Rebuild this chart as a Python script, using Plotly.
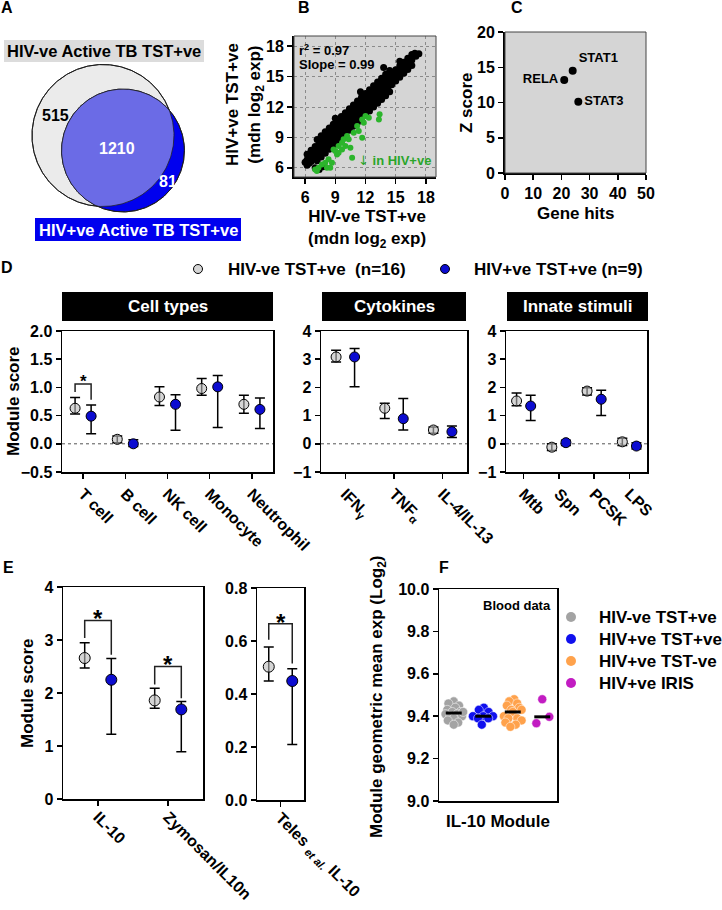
import numpy as np
import plotly.graph_objects as go

W, H = 722, 910
FONT = "Liberation Sans, Arial, Helvetica, sans-serif"


def fx(p):
    return p / W


def fy(p):
    return 1 - p / H


def F(size, color="black", bold=True):
    d = dict(family=FONT, size=size, color=color)
    if bold:
        d["weight"] = "bold"
    return d


# ======================= DATA =======================
# ---- Panel A (Venn counts)
venn_set_names = ["HIV-ve Active TB TST+ve", "HIV+ve Active TB TST+ve"]
venn_only_neg = 515
venn_shared = 1210
venn_only_pos = 81

# ---- Panel B (median log2 expression; black = all genes, green = lower in HIV+ve)
b_center_x = [6.2, 6.6, 7.0, 7.4, 7.8, 8.2, 8.6, 9.0, 9.4, 9.8, 10.2, 10.6, 11.0, 11.4, 11.8, 12.2, 12.6, 13.0,
              13.4, 13.8, 14.2, 14.6, 15.0, 15.4, 15.8, 16.2, 16.6, 17.0]
b_center_y = [6.80, 7.18, 7.56, 7.93, 8.31, 8.69, 9.07, 9.45, 9.82, 10.20, 10.58, 10.96, 11.34, 11.71, 12.09, 12.47,
              12.85, 13.23, 13.60, 13.98, 14.36, 14.74, 15.12, 15.49, 15.87, 16.25, 16.63, 17.01]
b_upper_x = [6.2, 6.6, 7.0, 7.4, 7.8, 8.2, 8.6, 9.0, 9.4, 9.8, 10.2, 10.6, 11.0, 11.4, 11.8, 12.2, 12.6, 13.0,
             13.4, 13.8, 14.2, 14.6, 15.0, 15.4, 15.8, 16.2, 16.6]
b_upper_y = [7.35, 7.73, 8.11, 8.48, 8.86, 9.24, 9.62, 10.00, 10.37, 10.75, 11.13, 11.51, 11.89, 12.26, 12.64, 13.02,
             13.40, 13.78, 14.15, 14.53, 14.91, 15.29, 15.67, 16.04, 16.42, 16.80, 17.18]
b_lower_x = b_upper_x
b_lower_y = [6.25, 6.63, 7.01, 7.38, 7.76, 8.14, 8.52, 8.90, 9.27, 9.65, 10.03, 10.41, 10.79, 11.16, 11.54, 11.92,
             12.30, 12.68, 13.05, 13.43, 13.81, 14.19, 14.57, 14.94, 15.32, 15.70, 16.08]
b_outer_x = [7.2, 7.6, 8.0, 8.4, 8.8, 9.2, 9.6, 10.0, 10.4, 10.8, 11.2, 11.6, 12.0, 12.4, 12.8, 13.2, 13.6, 14.0, 14.4]
b_top_y = [8.80, 9.17, 9.55, 9.93, 10.31, 10.69, 11.06, 11.44, 11.82, 12.20, 12.58, 12.95, 13.33, 13.71, 14.09,
           14.47, 14.84, 15.22, 15.60]
b_bottom_y = [6.70, 7.07, 7.45, 7.83, 8.21, 8.59, 8.96, 9.34, 9.72, 10.10, 10.48, 10.85, 11.23, 11.61, 11.99, 12.37,
              12.74, 13.12, 13.50]
b_extra_x = [6.0, 6.4, 7.0, 7.4, 7.8, 11.5, 9.0, 13.8, 17.3, 16.9, 15.4]
b_extra_y = [6.55, 6.45, 6.0, 5.85, 6.1, 13.5, 10.9, 15.9, 17.25, 17.3, 16.5]
b_green_x = [7.0, 7.33, 7.17, 7.67, 8.0, 8.17, 8.33, 8.5, 8.67, 8.83, 9.0, 9.17, 9.33, 9.33, 9.67, 9.67, 9.83, 10.0,
             10.17, 10.33, 10.5, 10.67, 10.83, 11.17, 11.33, 11.67, 11.67, 11.83, 12.0, 12.33, 13.33, 13.4]
b_green_y = [5.85, 6.0, 5.68, 6.34, 6.5, 6.0, 6.84, 6.0, 6.5, 7.82, 7.66, 7.33, 8.15, 7.5, 8.48, 7.82, 8.81, 8.15,
             9.14, 8.81, 7.99, 7.0, 9.47, 10.13, 9.63, 8.97, 10.78, 10.45, 11.11, 10.95, 10.78, 11.28]
b_r2 = 0.97
b_slope = 0.99
b_ticks = [6, 9, 12, 15, 18]

# ---- Panel C (upstream regulators)
c_names = ["STAT1", "RELA", "STAT3"]
c_hits = [24, 21, 26]
c_z = [14.5, 13.2, 10.1]
c_label_pos = ["top right", "middle left", "middle right"]

# ---- Panel D (module scores: mean, lower CI, upper CI)
d_groups = ["HIV-ve TST+ve\u00a0\u00a0(n=16)", "HIV+ve TST+ve (n=9)"]

d_cell_cats = ["T cell", "B cell", "NK cell", "Monocyte", "Neutrophil"]
d_cell_neg = [0.63, 0.08, 0.83, 0.98, 0.70]
d_cell_neg_lo = [0.53, 0.02, 0.68, 0.86, 0.54]
d_cell_neg_hi = [0.82, 0.14, 1.01, 1.16, 0.86]
d_cell_pos = [0.49, 0.00, 0.70, 1.01, 0.61]
d_cell_pos_lo = [0.18, -0.05, 0.24, 0.29, 0.27]
d_cell_pos_hi = [0.69, 0.07, 0.87, 1.21, 0.81]

d_cyto_cats = ["IFN<sub>γ</sub>", "TNF<sub>α</sub>", "IL-4/IL-13"]
d_cyto_neg = [3.08, 1.26, 0.49]
d_cyto_neg_lo = [2.90, 0.90, 0.37]
d_cyto_neg_hi = [3.32, 1.44, 0.60]
d_cyto_pos = [3.08, 0.89, 0.43]
d_cyto_pos_lo = [2.02, 0.49, 0.22]
d_cyto_pos_hi = [3.38, 1.61, 0.63]

d_innate_cats = ["Mtb", "Spn", "PCSK", "LPS"]
d_innate_neg = [1.52, -0.12, 1.87, 0.07]
d_innate_neg_lo = [1.35, -0.24, 1.73, -0.06]
d_innate_neg_hi = [1.80, 0.00, 1.99, 0.20]
d_innate_pos = [1.34, 0.04, 1.58, -0.08]
d_innate_pos_lo = [0.83, -0.06, 1.00, -0.18]
d_innate_pos_hi = [1.72, 0.13, 1.90, 0.04]

d_headers = ["Cell types", "Cytokines", "Innate stimuli"]
# significance bracket: (category index, top, left leg end, right leg end, star y)
d_sig = [(0, 1.06, 0.92, 0.78, 1.17)]

# ---- Panel E
e_cats = ["IL-10", "Zymosan/IL10n"]
e_neg = [2.66, 1.86]
e_neg_lo = [2.47, 1.71]
e_neg_hi = [2.95, 2.09]
e_pos = [2.25, 1.69]
e_pos_lo = [1.22, 0.89]
e_pos_hi = [2.65, 1.84]
e_sig = [(0, 3.37, 3.04, 2.72, 3.50), (1, 2.50, 2.16, 1.90, 2.63)]

e2_cats = ["Teles <sub><i>et al.</i></sub> IL-10"]
e2_neg = [0.503]
e2_neg_lo = [0.449]
e2_neg_hi = [0.577]
e2_pos = [0.449]
e2_pos_lo = [0.209]
e2_pos_hi = [0.495]
e2_sig = [(0, 0.665, 0.605, 0.515, 0.690)]

# ---- Panel F (IL-10 module geometric mean expression, blood)
f_groups = ["HIV-ve TST+ve", "HIV+ve TST+ve", "HIV+ve TST-ve", "HIV+ve IRIS"]
f_colors = ["#a3a3a3", "#1010ee", "#ffa24c", "#c21cc2"]
f_vals = [
    [9.47, 9.46, 9.45, 9.44, 9.43, 9.42, 9.42, 9.41, 9.41, 9.40, 9.40, 9.39, 9.38, 9.37, 9.36, 9.42],
    [9.44, 9.43, 9.42, 9.40, 9.40, 9.40, 9.39, 9.39, 9.36],
    [9.48, 9.47, 9.46, 9.45, 9.44, 9.43, 9.43, 9.42, 9.40, 9.39, 9.39, 9.38, 9.37, 9.36, 9.35],
    [9.48, 9.397, 9.367],
]
f_jitter = [
    [0.00, -0.18, 0.18, 0.05, -0.22, 0.22, -0.05, -0.28, 0.12, 0.28, -0.12, 0.00, -0.20, 0.15, 0.00, 0.32],
    [0.02, -0.15, 0.18, -0.35, 0.00, 0.33, -0.18, 0.17, -0.05],
    [0.05, -0.12, 0.15, -0.20, 0.22, -0.05, 0.30, 0.00, -0.30, 0.15, -0.15, 0.30, -0.25, 0.10, -0.08],
    [0.00, 0.24, -0.20],
]

# ======================= STYLE / LAYOUT CONSTANTS =======================
GRAY_FILL = "rgba(185,185,185,0.6)"
BLUE_FILL = "#0c0cd0"
D_LEG_MARK_X = [198, 445]
D_LEG_TEXT_X = [226, 472]
D_LEG_Y = 269
F_LEG_MARK_X = 571
F_LEG_TEXT_X = 597
F_LEG_Y = [617, 639, 661, 683]

layout_axes = {}
annotations = []
shapes = []


def add_axes(n, x0, x1, y0, y1, xkw, ykw):
    s = "" if n == 1 else str(n)
    xkw = dict(xkw)
    ykw = dict(ykw)
    xkw.update(domain=[fx(x0), fx(x1)], anchor="y" + s)
    ykw.update(domain=[fy(y1), fy(y0)], anchor="x" + s)
    layout_axes["xaxis" + s] = xkw
    layout_axes["yaxis" + s] = ykw


def axs(**kw):
    base = dict(showline=True, linecolor="black", linewidth=1.5, ticks="outside", ticklen=5, tickwidth=1.5,
                tickcolor="black", showgrid=False, zeroline=False, tickfont=F(16), fixedrange=True)
    base.update(kw)
    return base


def ann(text, x, y, size=17, color="black", xanchor="center", yanchor="middle", angle=0, bold=True,
        xref="paper", yref="paper", **kw):
    if xref == "paper":
        x = fx(x)
    if yref == "paper":
        y = fy(y)
    annotations.append(dict(text=text, x=x, y=y, xref=xref, yref=yref, showarrow=False, font=F(size, color, bold),
                            xanchor=xanchor, yanchor=yanchor, textangle=angle, **kw))


def prect(x0, x1, y0, y1, fill, layer="above"):
    shapes.append(dict(type="rect", xref="paper", yref="paper", x0=fx(x0), x1=fx(x1), y0=fy(y1), y1=fy(y0),
                       fillcolor=fill, line=dict(width=0), layer=layer))


fig = go.Figure()

# ======================= A: Venn =======================
add_axes(1, 0, 240, 0, 250, dict(visible=False, range=[0, 240], fixedrange=True),
         dict(visible=False, range=[250, 0], fixedrange=True))
venn_scale = 71.0 / np.sqrt(venn_only_neg + venn_shared)  # px per sqrt(gene count)
r_big = venn_scale * np.sqrt(venn_only_neg + venn_shared)
r_small = venn_scale * np.sqrt(venn_only_pos + venn_shared)
cb = np.array([103.0, 135.5])
cs = cb + np.array([20.0, 15.0])
t = np.linspace(0, 2 * np.pi, 400)
big = np.c_[cb[0] + r_big * np.cos(t), cb[1] + r_big * np.sin(t)]
small = np.c_[cs[0] + r_small * np.cos(t), cs[1] + r_small * np.sin(t)]
inter = np.vstack([small[np.hypot(*(small - cb).T) <= r_big], big[np.hypot(*(big - cs).T) <= r_small]])
ang = np.arctan2(inter[:, 1] - cs[1], inter[:, 0] - cs[0])
inter = inter[np.argsort(ang)]
inter = np.vstack([inter, inter[:1]])

fig.add_trace(go.Scatter(x=big[:, 0], y=big[:, 1], mode="lines", fill="toself", fillcolor="#ebebeb",
                         line=dict(color="black", width=1), xaxis="x", yaxis="y", showlegend=False, hoverinfo="skip"))
fig.add_trace(go.Scatter(x=small[:, 0], y=small[:, 1], mode="lines", fill="toself", fillcolor="#0000ee",
                         line=dict(color="#111", width=1), xaxis="x", yaxis="y", showlegend=False, hoverinfo="skip"))
fig.add_trace(go.Scatter(x=inter[:, 0], y=inter[:, 1], mode="lines", fill="toself", fillcolor="#6b6be6",
                         line=dict(color="rgba(0,0,0,0)", width=0), xaxis="x", yaxis="y", showlegend=False,
                         hoverinfo="skip"))
fig.add_trace(go.Scatter(x=small[:, 0], y=small[:, 1], mode="lines", line=dict(color="#222", width=0.8),
                         xaxis="x", yaxis="y", showlegend=False, hoverinfo="skip"))
fig.add_trace(go.Scatter(x=big[:, 0], y=big[:, 1], mode="lines", line=dict(color="#222", width=0.8),
                         xaxis="x", yaxis="y", showlegend=False, hoverinfo="skip"))
annotations.append(dict(text=str(venn_only_neg), x=55, y=115, xref="x", yref="y", showarrow=False, font=F(16)))
annotations.append(dict(text=str(venn_shared), x=117, y=148, xref="x", yref="y", showarrow=False,
                        font=F(16, "white")))
annotations.append(dict(text=str(venn_only_pos), x=168, y=181, xref="x", yref="y", showarrow=False,
                        font=F(16, "white")))
prect(4, 204, 40, 62, "#dcdcdc", layer="below")
ann(venn_set_names[0], 104, 51, size=16.5)
prect(35, 241, 218, 241, "#0000ee", layer="below")
ann(venn_set_names[1], 138, 229.5, size=16.5, color="white")

# ======================= B: scatter =======================
add_axes(2, 294, 436, 36, 177,
         axs(range=[4.9, 19.0], tickvals=b_ticks, linewidth=2, showgrid=True, gridcolor="#8a8a8a",
             griddash="dot", gridwidth=1),
         axs(range=[5.1, 19.0], tickvals=b_ticks, linewidth=2, showgrid=True, gridcolor="#8a8a8a",
             griddash="dot", gridwidth=1))
shapes.append(dict(type="rect", xref="x2 domain", yref="y2 domain", x0=0, x1=1, y0=0, y1=1,
                   fillcolor="#d5d5d5", line=dict(width=0), layer="below"))
shapes.append(dict(type="rect", xref="x2 domain", yref="y2 domain", x0=0, x1=1, y0=0, y1=1,
                   fillcolor="rgba(0,0,0,0)", line=dict(color="#444", width=1), layer="above"))
bx = b_center_x + b_upper_x + b_lower_x + b_outer_x + b_outer_x + b_extra_x
by = b_center_y + b_upper_y + b_lower_y + b_top_y + b_bottom_y + b_extra_y
fig.add_trace(go.Scatter(x=bx, y=by, mode="markers", marker=dict(size=7, color="black"), xaxis="x2", yaxis="y2",
                         showlegend=False, hoverinfo="skip"))
fig.add_trace(go.Scatter(x=b_green_x, y=b_green_y, mode="markers", marker=dict(size=6, color="#2cb52c"),
                         xaxis="x2", yaxis="y2", showlegend=False, hoverinfo="skip"))
ann(f"r<sup>2</sup> = {b_r2:.2f}", 297, 50, size=13, xanchor="left")
ann(f"Slope = {b_slope:.2f}", 297, 65, size=13, xanchor="left")
ann("<span style='font-family:DejaVu Sans;font-weight:normal'>\u2193</span> in HIV+ve", 356, 160, size=13,
    color="#2aa52a", xanchor="left")
ann("HIV+ve TST+ve<br>(mdn log<sub>2</sub> exp)", 245, 104, size=17, angle=-90)
ann("HIV-ve TST+ve<br>(mdn log<sub>2</sub> exp)", 367, 229, size=17)

# ======================= C: regulators =======================
add_axes(3, 505, 646, 32, 173, axs(range=[0, 50], dtick=10, linewidth=2),
         axs(range=[0, 20], dtick=5, linewidth=2))
shapes.append(dict(type="rect", xref="x3 domain", yref="y3 domain", x0=0, x1=1, y0=0, y1=1,
                   fillcolor="#d5d5d5", line=dict(width=0), layer="below"))
shapes.append(dict(type="rect", xref="x3 domain", yref="y3 domain", x0=0, x1=1, y0=0, y1=1,
                   fillcolor="rgba(0,0,0,0)", line=dict(color="#444", width=1), layer="above"))
fig.add_trace(go.Scatter(x=c_hits, y=c_z, mode="markers+text", text=c_names, textposition=c_label_pos,
                         textfont=F(13), marker=dict(size=8, color="black"), xaxis="x3", yaxis="y3",
                         showlegend=False, hoverinfo="skip"))
ann("Gene hits", 575, 213, size=17)
ann("Z score", 466, 103, size=17, angle=-90)


# ======================= D / E helpers =======================
def dot_trace(xs, mean, lo, hi, fill, xa, ya, size):
    return go.Scatter(
        x=xs, y=mean, mode="markers", showlegend=False,
        marker=dict(size=size, color=fill, line=dict(color="black", width=1)),
        error_y=dict(type="data", symmetric=False, array=[h - m for h, m in zip(hi, mean)],
                     arrayminus=[m - l for m, l in zip(mean, lo)], color="black", thickness=1.5, width=5),
        xaxis=xa, yaxis=ya, hoverinfo="skip")


def add_group_panel(n, x0, x1, y0, y1, cats, neg, neg_lo, neg_hi, pos, pos_lo, pos_hi, yrange, dtick, tfmt,
                    off, size, sig=(), star_size=18, zero_line=True, standoff=0):
    add_axes(n, x0, x1, y0, y1,
             axs(range=[-0.5, len(cats) - 0.5], tickvals=list(range(len(cats))), ticktext=cats, tickangle=45,
                 mirror=True, tickfont=F(16), ticklabelstandoff=standoff),
             axs(range=yrange, dtick=dtick, tickformat=tfmt, mirror=True))
    xa, ya = f"x{n}", f"y{n}"
    idx = np.arange(len(cats))
    fig.add_trace(dot_trace(idx - off, neg, neg_lo, neg_hi, GRAY_FILL, xa, ya, size))
    fig.add_trace(dot_trace(idx + off, pos, pos_lo, pos_hi, BLUE_FILL, xa, ya, size))
    if zero_line:
        shapes.append(dict(type="line", xref=f"{xa} domain", yref=ya, x0=0, x1=1, y0=0, y1=0,
                           line=dict(color="#555", width=1, dash="dot"), layer="below"))
    for (ci, top, yl, yr, ys) in sig:
        shapes.append(dict(type="path", xref=xa, yref=ya,
                           path=f"M {ci - off},{yl} L {ci - off},{top} L {ci + off},{top} L {ci + off},{yr}",
                           line=dict(color="#222", width=1.5)))
        annotations.append(dict(text="*", x=ci, y=ys, xref=xa, yref=ya, showarrow=False, font=F(star_size),
                                yanchor="middle", yshift=-star_size * 0.22))


# ======================= D =======================
add_group_panel(4, 62, 273, 331, 472, d_cell_cats, d_cell_neg, d_cell_neg_lo, d_cell_neg_hi, d_cell_pos,
                d_cell_pos_lo, d_cell_pos_hi, [-0.5, 2.0], 0.5, ".1f", 0.19, 10, sig=d_sig, star_size=17)
add_group_panel(5, 321, 467, 331, 472, d_cyto_cats, d_cyto_neg, d_cyto_neg_lo, d_cyto_neg_hi, d_cyto_pos,
                d_cyto_pos_lo, d_cyto_pos_hi, [-1, 4], 1, "d", 0.19, 10)
add_group_panel(6, 506, 647, 331, 472, d_innate_cats, d_innate_neg, d_innate_neg_lo, d_innate_neg_hi, d_innate_pos,
                d_innate_pos_lo, d_innate_pos_hi, [-1, 4], 1, "d", 0.2, 10)
for (hx0, hx1), txt in zip([(62, 273), (322, 466), (507, 648)], d_headers):
    prect(hx0, hx1, 292, 321, "black")
    ann(txt, (hx0 + hx1) / 2, 306.5, size=17, color="white")
ann("Module score", 13, 401, size=17, angle=-90)

# ======================= E =======================
add_group_panel(7, 63, 203, 587, 799, e_cats, e_neg, e_neg_lo, e_neg_hi, e_pos, e_pos_lo, e_pos_hi,
                [0, 4], 1, "d", 0.19, 11, sig=e_sig, star_size=24, zero_line=False, standoff=-4)
add_group_panel(8, 257, 304, 588, 800, e2_cats, e2_neg, e2_neg_lo, e2_neg_hi, e2_pos, e2_pos_lo, e2_pos_hi,
                [0, 0.8], 0.2, ".1f", 0.25, 11, sig=e2_sig, star_size=24, zero_line=False, standoff=-4)
ann("Module score", 27, 693, size=17, angle=-90)

# ======================= F =======================
add_axes(9, 439, 557, 589, 801,
         axs(range=[-0.5, 3.5], showticklabels=False, ticks="", mirror=True),
         axs(range=[9.0, 10.0], tickvals=[9.0, 9.2, 9.4, 9.6, 9.8, 10.0], tickformat=".1f", mirror=True))
for gi, (col, vals, jit) in enumerate(zip(f_colors, f_vals, f_jitter)):
    fig.add_trace(go.Scatter(x=[gi + j for j in jit], y=vals, mode="markers", showlegend=False,
                             marker=dict(size=9, color=col, line=dict(color="white", width=0.5)),
                             xaxis="x9", yaxis="y9", hoverinfo="skip"))
for gi, vals in enumerate(f_vals):
    med = float(np.median(vals))
    fig.add_trace(go.Scatter(x=[gi - 0.27, gi + 0.27], y=[med, med], mode="lines",
                             line=dict(color="black", width=3), xaxis="x9", yaxis="y9", showlegend=False,
                             hoverinfo="skip"))
ann("Blood data", 517, 605, size=13)
ann("IL-10 Module", 498, 821, size=17)
ann("Module geometric mean exp (Log<sub>2</sub>)", 378, 697, size=17, angle=-90)

# ======================= legends (drawn in a full-figure pixel overlay) =======================
add_axes(10, 0, W, 0, H, dict(visible=False, range=[0, W], fixedrange=True),
         dict(visible=False, range=[H, 0], fixedrange=True))
fig.add_trace(go.Scatter(x=D_LEG_MARK_X, y=[D_LEG_Y] * 2, mode="markers",
                         marker=dict(size=9, color=[GRAY_FILL, BLUE_FILL], line=dict(color="black", width=1)),
                         xaxis="x10", yaxis="y10", showlegend=False, hoverinfo="skip"))
for tx, name in zip(D_LEG_TEXT_X, d_groups):
    ann(name, tx, D_LEG_Y, size=17, xanchor="left")
fig.add_trace(go.Scatter(x=[F_LEG_MARK_X] * len(f_groups), y=F_LEG_Y, mode="markers",
                         marker=dict(size=10, color=f_colors), xaxis="x10", yaxis="y10", showlegend=False,
                         hoverinfo="skip"))
for ty, name in zip(F_LEG_Y, f_groups):
    ann(name, F_LEG_TEXT_X, ty, size=17, xanchor="left")

# ======================= panel letters =======================
for L, x, y in [("A", 7, 8), ("B", 304, 8), ("C", 517, 8), ("D", 7, 267), ("E", 8, 567), ("F", 444, 567)]:
    ann(L, x, y, size=16)

fig.update_layout(
    width=W, height=H, autosize=False, margin=dict(l=0, r=0, t=0, b=0, autoexpand=False),
    paper_bgcolor="white", plot_bgcolor="rgba(0,0,0,0)",
    font=F(16), showlegend=False,
    annotations=annotations, shapes=shapes,
    **layout_axes,
)
fig.write_html("out.html", config={"displayModeBar": False, "staticPlot": True},
               post_script="document.body.style.margin='0px';document.body.style.overflow='hidden';")
